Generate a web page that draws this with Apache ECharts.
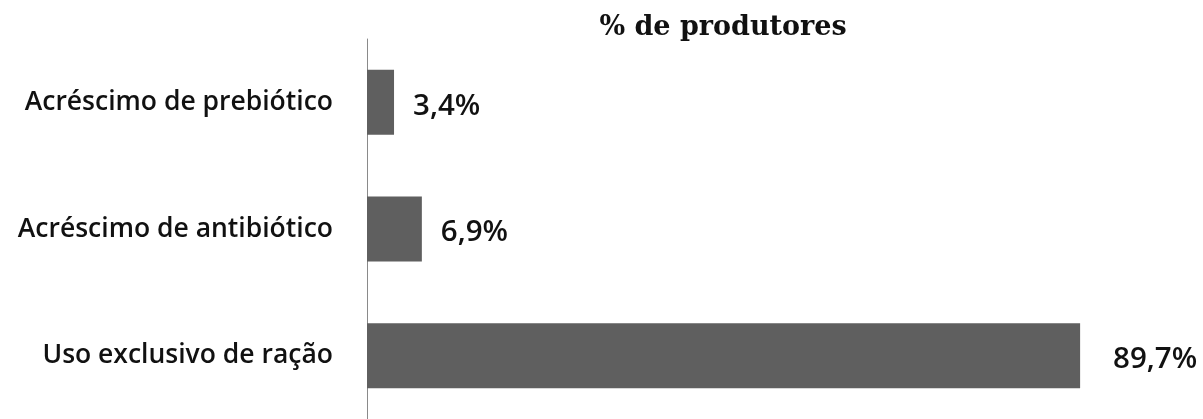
<!DOCTYPE html>
<html>
<head>
<meta charset="utf-8">
<script src="https://cdn.jsdelivr.net/npm/echarts@6/dist/echarts.min.js"></script>
<style>
  html, body { margin: 0; padding: 0; background: #fff; }
  #chart { width: 1203px; height: 419px; }
</style>
</head>
<body>
<div id="chart"></div>
<script>
// Feeding practices reported by producers
const categories = ['Acréscimo de prebiótico', 'Acréscimo de antibiótico', 'Uso exclusivo de ração'];
const percentages = [3.4, 6.9, 89.7];
const titleText = '% de produtores';

const fmt = v => v.toFixed(1).replace('.', ',') + '%';

const chart = echarts.init(document.getElementById('chart'), null, { renderer: 'canvas' });
chart.setOption({
  backgroundColor: '#ffffff',
  animation: false,
  title: {
    text: titleText,
    left: 718,
    top: 9,
    textAlign: 'center',
    textStyle: { fontFamily: 'DejaVu Serif', fontWeight: 'bold', fontSize: 27, color: '#111' }
  },
  grid: { left: 367, top: 39, bottom: 0, right: 41, containLabel: false },
  xAxis: {
    type: 'value', min: 0, max: 100, show: false
  },
  yAxis: {
    type: 'category',
    data: categories,
    inverse: true,
    axisLine: { show: true, lineStyle: { color: '#8a8a8a', width: 1 } },
    axisTick: { show: false },
    axisLabel: {
      margin: 34,
      fontFamily: 'Open Sans',
      fontWeight: 600,
      fontSize: 26.5,
      color: '#111'
    }
  },
  series: [{
    type: 'bar',
    barWidth: 65,
    data: percentages.map((v, i) => ({
      value: v,
      label: { distance: i === percentages.length - 1 ? 33 : 19 }
    })),
    itemStyle: { color: '#5f5f5f' },
    label: {
      show: true,
      position: 'right',
      offset: [0, 4],
      formatter: p => fmt(p.value),
      fontFamily: 'Open Sans',
      fontWeight: 600,
      fontSize: 29.5,
      color: '#111'
    }
  }]
});
</script>
</body>
</html>
